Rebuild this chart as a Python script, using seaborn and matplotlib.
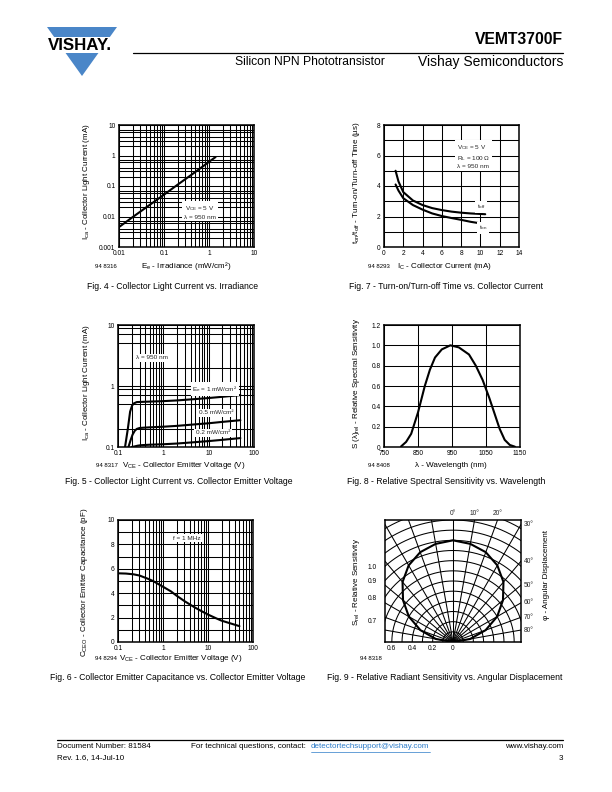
import numpy as np
import matplotlib
matplotlib.use("Agg")
import matplotlib.pyplot as plt
import seaborn as sns
from matplotlib.ticker import LogLocator, FixedLocator, NullFormatter, MultipleLocator
from matplotlib.patches import Polygon, Rectangle

# ---------------- data ----------------
# Fig. 4  Collector light current vs irradiance
fig4_irradiance = [0.01, 0.02, 0.05, 0.1, 0.2, 0.5, 1.0, 1.4]
fig4_current = [0.0045, 0.0095, 0.025, 0.052, 0.11, 0.29, 0.62, 0.89]

# Fig. 7  Turn-on / turn-off time vs collector current
fig7_ic = [1.2, 1.5, 2, 3, 4, 5, 6, 7, 8, 9, 10.5]
fig7_toff = [5.0, 4.3, 3.6, 3.05, 2.75, 2.55, 2.42, 2.32, 2.25, 2.2, 2.15]
fig7_ton = [4.1, 3.7, 3.2, 2.75, 2.45, 2.2, 2.03, 1.9, 1.78, 1.65, 1.5]

# Fig. 5  Collector light current vs collector emitter voltage
fig5_vce_1 = [0.143, 0.165, 0.185, 0.205, 0.225, 0.26, 0.35, 0.5, 1, 2, 5, 10, 20, 50]
fig5_ica_1 = [0.10, 0.2, 0.38, 0.48, 0.52, 0.545, 0.55, 0.555, 0.565, 0.58, 0.61, 0.635, 0.665, 0.71]
fig5_vce_05 = [0.17, 0.19, 0.21, 0.235, 0.26, 0.3, 0.4, 0.5, 1, 2, 5, 10, 20, 50]
fig5_ica_05 = [0.10, 0.13, 0.16, 0.185, 0.198, 0.205, 0.208, 0.21, 0.215, 0.222, 0.235, 0.245, 0.258, 0.275]
fig5_vce_02 = [0.2, 0.23, 0.27, 0.32, 0.4, 0.5, 1, 2, 5, 10, 20, 50]
fig5_ica_02 = [0.1, 0.102, 0.105, 0.107, 0.108, 0.109, 0.111, 0.114, 0.12, 0.125, 0.131, 0.14]

# Fig. 8  Relative spectral sensitivity vs wavelength
fig8_wavelength = [800, 815, 830, 850, 870, 885, 900, 920, 945, 970, 1000, 1020, 1040, 1060, 1075, 1090, 1105, 1120, 1135]
fig8_srel = [0.005, 0.05, 0.13, 0.34, 0.60, 0.76, 0.88, 0.96, 1.0, 0.98, 0.91, 0.80, 0.66, 0.48, 0.33, 0.18, 0.07, 0.02, 0.003]

# Fig. 6  Collector emitter capacitance vs collector emitter voltage
fig6_vce = [0.1, 0.15, 0.22, 0.3, 0.45, 0.6, 1, 1.5, 2, 3, 5, 7, 10, 15, 20, 30, 50]
fig6_cceo = [5.63, 5.61, 5.55, 5.45, 5.2, 5.0, 4.53, 4.15, 3.8, 3.35, 2.85, 2.55, 2.25, 1.95, 1.75, 1.55, 1.3]

# Fig. 9  Relative radiant sensitivity vs angular displacement (one side, symmetric)
fig9_angle = [0, 10, 20, 30, 40, 50, 60, 70, 80, 90]
fig9_srel = [1.0, 0.98, 0.94, 0.87, 0.77, 0.64, 0.50, 0.34, 0.17, 0.0]

# tick labels
fig4_xticks = [0.01, 0.1, 1, 10]
fig4_xlabels = ["0.01", "0.1", "1", "10"]
fig4_yticks = [0.001, 0.01, 0.1, 1, 10]
fig4_ylabels = ["0.001", "0.01", "0.1", "1", "10"]
fig5_xticks = [0.1, 1, 10, 100]
fig5_xlabels = ["0.1", "1", "10", "100"]
fig5_yticks = [0.1, 1, 10]
fig5_ylabels = ["0.1", "1", "10"]
fig8_xticks = [750, 850, 950, 1050, 1150]
fig8_yticks = [0, 0.2, 0.4, 0.6, 0.8, 1.0, 1.2]
fig8_ylabels = ["0", "0.2", "0.4", "0.6", "0.8", "1.0", "1.2"]
fig9_bottom_ticks = [-0.6, -0.4, -0.2, 0]
fig9_bottom_labels = ["0.6", "0.4", "0.2", "0"]
fig9_left_rings = [1.0, 0.9, 0.8, 0.7]
fig9_left_labels = ["1.0", "0.9", "0.8", "0.7"]
fig9_right_angles = [30, 40, 50, 60, 70, 80]
fig9_top_angles = [0, 10, 20]

# ---------------- style ----------------
sns.set_style("white")
plt.rcParams["font.family"] = ["Liberation Sans", "DejaVu Sans"]
plt.rcParams["mathtext.fontset"] = "custom"
plt.rcParams["mathtext.rm"] = "Liberation Sans"
plt.rcParams["mathtext.it"] = "Liberation Sans:italic"
plt.rcParams["mathtext.bf"] = "Liberation Sans:bold"

W, H = 612, 792
fig = plt.figure(figsize=(6.12, 7.92), dpi=100)
fig.patch.set_facecolor("white")

TICK = 4.8
LAB = 5.8
CAP = 6.2
ANN = 4.6
GRID_LW = 0.75
CURVE_LW = 1.5


def box(x0, y0, x1, y1):
    return fig.add_axes([x0 / W, 1 - y1 / H, (x1 - x0) / W, (y1 - y0) / H])


def T(x, y, s, **kw):
    kw.setdefault("ha", "left")
    kw.setdefault("va", "center")
    kw.setdefault("color", "black")
    return fig.text(x / W, 1 - y / H, s, **kw)


def style(ax):
    for sp in ax.spines.values():
        sp.set_linewidth(1.1)
        sp.set_color("black")
        sp.set_visible(True)
    ax.tick_params(which="both", length=0, labelsize=TICK, pad=2.5, colors="black")
    ax.grid(which="both", color="black", lw=GRID_LW)
    ax.set_xlabel("")
    ax.set_ylabel("")


def logx(ax, ticks, labels, lo, hi, subs=(2, 3, 4, 5, 6, 7, 8, 9)):
    ax.set_xscale("log")
    ax.set_xlim(lo, hi)
    ax.xaxis.set_major_locator(FixedLocator(ticks))
    ax.set_xticklabels(labels)
    ax.xaxis.set_minor_locator(LogLocator(base=10, subs=subs))
    ax.xaxis.set_minor_formatter(NullFormatter())


def logy(ax, ticks, labels, lo, hi, subs=(2, 3, 4, 5, 6, 7, 8, 9)):
    ax.set_yscale("log")
    ax.set_ylim(lo, hi)
    ax.yaxis.set_major_locator(FixedLocator(ticks))
    ax.set_yticklabels(labels)
    ax.yaxis.set_minor_locator(LogLocator(base=10, subs=subs))
    ax.yaxis.set_minor_formatter(NullFormatter())


wbox = dict(facecolor="white", edgecolor="none", pad=1.2)

# ---------------- header ----------------
blue = "#4a86c8"
fig.patches.append(Polygon([(47 / W, 1 - 27 / H), (117 / W, 1 - 27 / H), (82 / W, 1 - 76 / H)],
                           closed=True, transform=fig.transFigure, facecolor=blue, edgecolor="none"))
fig.patches.append(Rectangle((38 / W, 1 - 53 / H), 84 / W, 16 / H, transform=fig.transFigure,
                             facecolor="white", edgecolor="none"))
T(80, 45.5, "VISHAY.", ha="center", fontsize=12.2, fontweight="bold")
fig.add_artist(plt.Line2D([133 / W, 563 / W], [1 - 53 / H, 1 - 53 / H], color="black", lw=0.9))
T(563, 40, "VEMT3700F", ha="right", fontsize=11.3, fontweight="bold")
T(385, 62, "Silicon NPN Phototransistor", ha="right", fontsize=8.7)
T(563, 62, "Vishay Semiconductors", ha="right", fontsize=10.0)

# ---------------- Fig. 4 ----------------
ax4 = box(119, 125, 254, 247)
sns.lineplot(x=fig4_irradiance, y=fig4_current, ax=ax4, color="black", lw=CURVE_LW, zorder=4)
logx(ax4, fig4_xticks, fig4_xlabels, 0.01, 10)
logy(ax4, fig4_yticks, fig4_ylabels, 0.001, 10, subs=(2, 3, 4, 6, 7))
style(ax4)
ax4.text(0.6, 0.287, "$\\mathregular{V_{CE}}$ = 5 V\nλ = 950 nm", transform=ax4.transAxes,
         ha="center", va="center", fontsize=ANN, linespacing=1.3, bbox=wbox, zorder=5)
T(86, 182, "$\\mathregular{I_{ca}}$ - Collector Light Current (mA)", ha="center", rotation=90, fontsize=LAB)
T(186, 266, "$\\mathregular{E_{e}}$ - Irradiance (mW/cm²)", ha="center", fontsize=LAB)
T(95, 266, "94 8316", fontsize=4.3)
T(173, 286, "Fig. 4 - Collector Light Current vs. Irradiance", ha="center", fontsize=CAP)

# ---------------- Fig. 7 ----------------
ax7 = box(384, 125, 519, 247)
sns.lineplot(x=fig7_ic, y=fig7_toff, ax=ax7, color="black", lw=CURVE_LW, zorder=4)
sns.lineplot(x=fig7_ic, y=fig7_ton, ax=ax7, color="black", lw=CURVE_LW, zorder=4)
ax7.set_xlim(0, 14)
ax7.set_ylim(0, 8)
ax7.xaxis.set_major_locator(MultipleLocator(2))
ax7.yaxis.set_major_locator(MultipleLocator(2))
ax7.yaxis.set_minor_locator(MultipleLocator(1))
style(ax7)
ax7.text(0.54, 0.746, "$\\mathregular{V_{CE}}$ = 5 V\n$\\mathregular{R_{L}}$ = 100 Ω\nλ = 950 nm",
         transform=ax7.transAxes, ha="left", va="center", fontsize=ANN, linespacing=1.3, bbox=wbox, zorder=5)
ax7.text(0.72, 0.328, "$\\mathregular{t_{off}}$", transform=ax7.transAxes, ha="center", va="center",
         fontsize=ANN, bbox=wbox, zorder=5)
ax7.text(0.735, 0.156, "$\\mathregular{t_{on}}$", transform=ax7.transAxes, ha="center", va="center",
         fontsize=ANN, bbox=wbox, zorder=5)
T(357, 183, "$\\mathregular{t_{on}/t_{off}}$ - Turn-on/Turn-off Time (µs)", ha="center", rotation=90, fontsize=LAB)
T(445, 266, "$\\mathregular{I_{C}}$ - Collector Current (mA)", ha="center", fontsize=LAB)
T(368, 266, "94 8293", fontsize=4.3)
T(446, 286, "Fig. 7 - Turn-on/Turn-off Time vs. Collector Current", ha="center", fontsize=CAP)

# ---------------- Fig. 5 ----------------
ax5 = box(118, 325, 254, 447)
for vx, iy in [(fig5_vce_1, fig5_ica_1), (fig5_vce_05, fig5_ica_05), (fig5_vce_02, fig5_ica_02)]:
    sns.lineplot(x=vx, y=iy, ax=ax5, color="black", lw=CURVE_LW, zorder=4)
logx(ax5, fig5_xticks, fig5_xlabels, 0.1, 100)
logy(ax5, fig5_yticks, fig5_ylabels, 0.1, 10, subs=(2, 5, 7, 9))
style(ax5)
ax5.text(0.25, 0.73, "λ = 950 nm", transform=ax5.transAxes, ha="center", va="center",
         fontsize=ANN, bbox=wbox, zorder=5)
ax5.text(0.713, 0.475, "$\\mathregular{E_{e}}$ = 1 mW/cm²", transform=ax5.transAxes, ha="center",
         va="center", fontsize=ANN, bbox=wbox, zorder=5)
ax5.text(0.72, 0.279, "0.5 mW/cm²", transform=ax5.transAxes, ha="center", va="center",
         fontsize=ANN, bbox=wbox, zorder=5)
ax5.text(0.70, 0.115, "0.2 mW/cm²", transform=ax5.transAxes, ha="center", va="center",
         fontsize=ANN, bbox=wbox, zorder=5)
T(87, 383, "$\\mathregular{I_{ca}}$ - Collector Light Current (mA)", ha="center", rotation=90, fontsize=LAB)
T(184, 466, "$\\mathregular{V_{CE}}$ - Collector Emitter Voltage (V)", ha="center", fontsize=LAB)
T(96, 466, "94 8317", fontsize=4.3)
T(179, 481, "Fig. 5 - Collector Light Current vs. Collector Emitter Voltage", ha="center", fontsize=CAP)

# ---------------- Fig. 8 ----------------
ax8 = box(384, 325, 520, 447)
sns.lineplot(x=fig8_wavelength, y=fig8_srel, ax=ax8, color="black", lw=CURVE_LW, zorder=4)
ax8.set_xlim(750, 1150)
ax8.set_ylim(0, 1.2)
ax8.xaxis.set_major_locator(FixedLocator(fig8_xticks))
ax8.yaxis.set_major_locator(FixedLocator(fig8_yticks))
ax8.set_yticklabels(fig8_ylabels)
style(ax8)
T(357, 383, "S (λ)$\\mathregular{_{rel}}$ - Relative Spectral Sensitivity", ha="center", rotation=90, fontsize=LAB)
T(451, 466, "λ - Wavelength (nm)", ha="center", fontsize=LAB)
T(368, 466, "94 8408", fontsize=4.3)
T(446, 481, "Fig. 8 - Relative Spectral Sensitivity vs. Wavelength", ha="center", fontsize=CAP)

# ---------------- Fig. 6 ----------------
ax6 = box(118, 520, 253, 642)
sns.lineplot(x=fig6_vce, y=fig6_cceo, ax=ax6, color="black", lw=CURVE_LW, zorder=4)
logx(ax6, fig5_xticks, fig5_xlabels, 0.1, 100)
ax6.set_ylim(0, 10)
ax6.yaxis.set_major_locator(MultipleLocator(2))
ax6.yaxis.set_minor_locator(MultipleLocator(1))
style(ax6)
ax6.text(0.51, 0.85, "f = 1 MHz", transform=ax6.transAxes, ha="center", va="center",
         fontsize=ANN, bbox=wbox, zorder=5)
T(85, 582, "$\\mathregular{C_{CEO}}$ - Collector Emitter Capacitance (pF)", ha="center", rotation=90, fontsize=LAB)
T(181, 659, "$\\mathregular{V_{CE}}$ - Collector Emitter Voltage (V)", ha="center", fontsize=LAB)
T(95, 659, "94 8294", fontsize=4.3)
T(178, 677, "Fig. 6 - Collector Emitter Capacitance vs. Collector Emitter Voltage", ha="center", fontsize=CAP)

# ---------------- Fig. 9 ----------------
ax9 = box(385, 520, 521, 642)
XL, YT = 0.667, 1.2
ax9.set_xlim(-XL, XL)
ax9.set_ylim(0, YT)
th = np.linspace(-np.pi / 2, np.pi / 2, 300)
for r in np.arange(0.1, 1.45, 0.1):
    ax9.plot(r * np.sin(th), r * np.cos(th), color="black", lw=GRID_LW, zorder=1)
for a in range(-80, 90, 10):
    ar = np.radians(a)
    ax9.plot([0, 2 * np.sin(ar)], [0, 2 * np.cos(ar)], color="black", lw=GRID_LW, zorder=1)
ang = np.radians(np.array([-a for a in fig9_angle[::-1]] + fig9_angle[1:]))
sr = np.array(fig9_srel[::-1] + fig9_srel[1:])
sns.lineplot(x=sr * np.sin(ang), y=sr * np.cos(ang), ax=ax9, color="black", lw=CURVE_LW,
             sort=False, estimator=None, zorder=4)
ax9.xaxis.set_major_locator(FixedLocator(fig9_bottom_ticks))
ax9.set_xticklabels(fig9_bottom_labels)
ax9.yaxis.set_major_locator(FixedLocator([np.sqrt(r ** 2 - XL ** 2) for r in fig9_left_rings]))
ax9.set_yticklabels(fig9_left_labels)
style(ax9)
ax9.grid(False)
ax9.tick_params(axis="y", pad=6)
for a in fig9_right_angles:
    ax9.text(XL + 0.03, XL / np.tan(np.radians(a)), f"{a}°", ha="left", va="center",
             fontsize=TICK, clip_on=False)
for a in fig9_top_angles:
    ax9.text(YT * np.tan(np.radians(a)), YT + 0.06, f"{a}°", ha="center", va="center",
             fontsize=TICK, clip_on=False)
T(357, 582, "$\\mathregular{S_{rel}}$ - Relative Sensitivity", ha="center", rotation=90, fontsize=LAB)
T(547, 575, "φ - Angular Displacement", ha="center", rotation=90, fontsize=LAB)
T(360, 659, "94 8318", fontsize=4.3)
T(445, 677, "Fig. 9 - Relative Radiant Sensitivity vs. Angular Displacement", ha="center", fontsize=CAP)

# ---------------- footer ----------------
fig.add_artist(plt.Line2D([57 / W, 563 / W], [1 - 740 / H, 1 - 740 / H], color="black", lw=0.9))
FT = 5.8
link = "#2a7ac8"
T(57, 747, "Document Number: 81584", fontsize=FT)
T(57, 758, "Rev. 1.6, 14-Jul-10", fontsize=FT)
T(191, 747, "For technical questions, contact:", fontsize=FT)
T(311, 747, "detectortechsupport@vishay.com", fontsize=FT, color=link)
fig.add_artist(plt.Line2D([311 / W, 430 / W], [1 - 751.5 / H, 1 - 751.5 / H], color=link, lw=0.5))
T(563, 747, "www.vishay.com", ha="right", fontsize=FT)
T(563, 758, "3", ha="right", fontsize=FT)

fig.savefig("out.png", dpi=100, facecolor="white")
